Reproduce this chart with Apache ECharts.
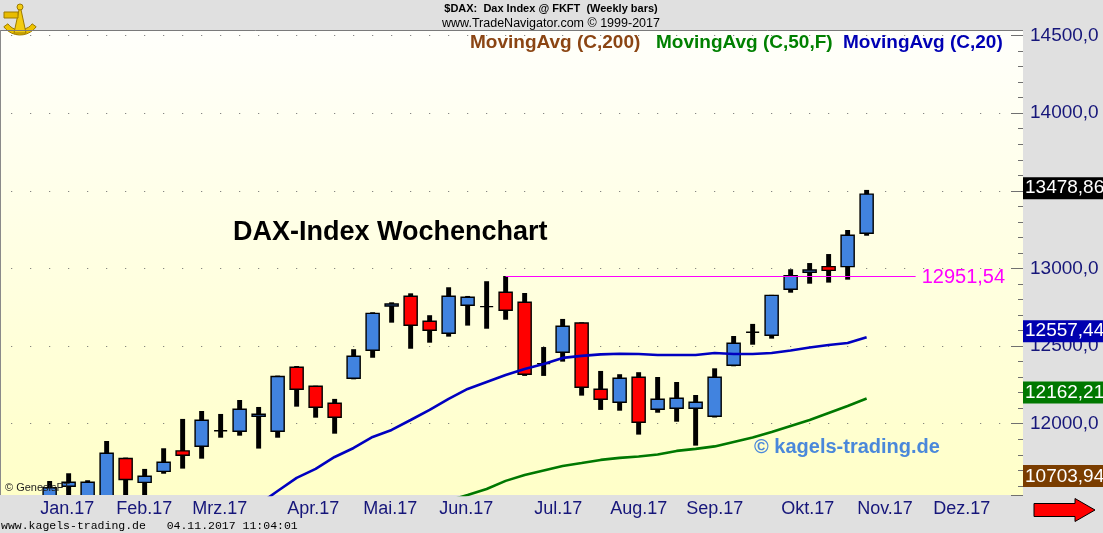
<!DOCTYPE html>
<html>
<head>
<meta charset="utf-8">
<script src="https://cdn.jsdelivr.net/npm/echarts@6/dist/echarts.min.js"></script>
<style>
html,body{margin:0;padding:0;background:#E0E0E0;}
#c{width:1103px;height:533px;}
</style>
</head>
<body>
<div id="c"></div>
<script>
// ---- data (weekly bars, dated by Friday) ----
var weeks = ['2017-01-06','2017-01-13','2017-01-20','2017-01-27','2017-02-03','2017-02-10','2017-02-17','2017-02-24',
  '2017-03-03','2017-03-10','2017-03-17','2017-03-24','2017-03-31','2017-04-07','2017-04-14','2017-04-21','2017-04-28',
  '2017-05-05','2017-05-12','2017-05-19','2017-05-26','2017-06-02','2017-06-09','2017-06-16','2017-06-23','2017-06-30',
  '2017-07-07','2017-07-14','2017-07-21','2017-07-28','2017-08-04','2017-08-11','2017-08-18','2017-08-25',
  '2017-09-01','2017-09-08','2017-09-15','2017-09-22','2017-09-29','2017-10-06','2017-10-13','2017-10-20','2017-10-27','2017-11-03'];
var opens  = [11430,11597,11535,11530,11776,11622,11693,11825,11855,11955,11952,12048,11952,12364,12241,12132,12293,
  12473,12758,12821,12660,12583,12763,12754,12847,12782,12387,12460,12649,12222,12138,12299,12093,12100,
  12100,12048,12377,12589,12570,12866,12976,13012,13012,13227];
var closes = [11588,11623,11623,11810,11641,11662,11752,11797,12022,11955,12093,12061,12304,12222,12106,12042,12435,
  12711,12771,12634,12602,12821,12815,12754,12731,12319,12387,12628,12235,12158,12293,12010,12158,12164,
  12138,12299,12518,12589,12827,12954,12990,12988,13214,13478.86];
var lows   = [11420,11520,11500,11510,11500,11530,11678,11711,11775,11910,11923,11840,11910,12110,12039,11936,12286,
  12425,12651,12483,12522,12561,12632,12612,12670,12308,12308,12400,12181,12089,12084,11930,12071,12013,
  11859,12040,12370,12509,12548,12844,12902,12909,12928,13211];
var highs  = [11631,11681,11636,11889,11782,11709,11842,12031,12082,12063,12153,12108,12310,12372,12245,12160,12480,
  12718,12782,12840,12699,12879,12823,12918,12951.54,12842,12494,12675,12653,12340,12319,12332,12301,12269,
  12185,12357,12565,12643,12830,12995,13035,13093,13248,13506];
var ma20 = [null,null,null,null,null,null,null,null,null,null,null,11480,11567,11651,11709,11786,11844,11915,11960,12024,
  12089,12160,12224,12269,12314,12353,12385,12424,12437,12447,12451,12449,12443,12443,12443,12456,12449,12449,12456,
  12472,12491,12507,12520,12557.44];
var ma50 = [null,null,null,null,null,null,null,null,null,null,null,null,null,null,null,null,null,null,null,null,null,
  11505,11541,11580,11632,11670,11699,11728,11747,11767,11780,11789,11802,11825,11838,11854,11883,11912,11947,11986,
  12024,12069,12114,12162.21];
var ma200Last = 10703.94;
var resistance = 12951.54;
var resistanceEndWeek = 45.58;
var monthNames = ['Jan','Feb','Mrz','Apr','Mai','Jun','Jul','Aug','Sep','Okt','Nov','Dez'];
var legendTexts = ['MovingAvg (C,200)','MovingAvg (C,50,F)','MovingAvg (C,20)'];

// ---- helpers ----
var FONT = '"Liberation Sans", Arial, sans-serif';
var NAVY = '#16167A';
var UP = '#4183DF', DOWN = '#FF0000';
function fmt1(v){ return v.toFixed(1).replace('.', ','); }
function fmt2(v){ return v.toFixed(2).replace('.', ','); }

var xMin = -2.56, xMax = 51.23;
var firstFri = new Date(weeks[0] + 'T12:00:00Z');
function friday(k){ return new Date(firstFri.getTime() + k * 7 * 86400000); }
var monthTicks = [], monthLabelMap = {};
for (var k = Math.ceil(xMin); k <= Math.floor(xMax); k++) {
  var d = friday(k), p = friday(k - 1);
  if (d.getUTCMonth() !== p.getUTCMonth()) {
    var v = k - 0.5;
    monthTicks.push(v);
    monthLabelMap[v.toFixed(2)] = monthNames[d.getUTCMonth()] + '.' + String(d.getUTCFullYear()).slice(2);
  }
}

var candleData = weeks.map(function(w, i){ return [i, opens[i], closes[i], lows[i], highs[i]]; });
function pairs(arr){ var out=[]; arr.forEach(function(v,i){ if (v!=null) out.push([i,v]); }); return out; }
var lastClose = closes[closes.length-1];
var resIdx = highs.indexOf(resistance);

var HIDDEN_LINE = {color:'rgba(0,0,0,0)', width:0};
function boxLabel(text, bg){
  return {show:true, position:'end', formatter:text, color:'#fff', backgroundColor:bg,
    padding:[2,2,1,2], fontSize:19, fontFamily:FONT, distance:0, offset:[0,-6]};
}

var chart = echarts.init(document.getElementById('c'), null, {renderer:'canvas'});
var option = {
  animation:false,
  backgroundColor:'#E0E0E0',
  grid:{left:1, top:30, right:80, bottom:38, show:true, borderWidth:0,
    backgroundColor:new echarts.graphic.LinearGradient(0,0,0,1,[{offset:0,color:'#FFFFFB'},{offset:1,color:'#FFFFC8'}])},
  xAxis:{type:'value', min:xMin, max:xMax,
    axisLine:{show:false, onZero:false}, axisTick:{show:false}, splitLine:{show:false},
    axisLabel:{customValues:monthTicks, formatter:function(v){ return monthLabelMap[v.toFixed(2)] || ''; },
      align:'left', color:NAVY, fontSize:18, fontFamily:FONT, margin:5}},
  yAxis:{type:'value', position:'right', min:11541, max:14536, minInterval:500, maxInterval:500, splitNumber:6,
    axisLine:{show:false, onZero:false},
    axisTick:{show:true, inside:true, length:12, lineStyle:{color:'#707070'}},
    minorTick:{show:true, splitNumber:5, length:5, lineStyle:{color:'#707070'}},
    splitLine:{show:true, showMinLine:false, showMaxLine:false,
      lineStyle:{type:[1,18], dashOffset:8.8, color:'#6a6a6a', width:1}},
    axisLabel:{showMinLabel:false, showMaxLabel:false, formatter:fmt1, color:NAVY, fontSize:19,
      fontFamily:FONT, margin:7, padding:[0,0,10,0]}},
  series:[
    {type:'custom', name:'DAX', clip:true, z:2,
      data:candleData, encode:{x:0, y:[1,2,3,4]},
      renderItem:function(params, api){
        var i = api.value(0), o = api.value(1), c = api.value(2), l = api.value(3), h = api.value(4);
        var pO = api.coord([i,o]), pC = api.coord([i,c]), pL = api.coord([i,l]), pH = api.coord([i,h]);
        var slot = api.size([1,0])[0];
        var bw = slot*0.69, ww = slot*0.26, x = pO[0];
        var top = Math.min(pO[1], pC[1]), bot = Math.max(pO[1], pC[1]);
        return {type:'group', children:[
          {type:'rect', shape:{x:x-ww/2, y:pH[1], width:ww, height:pL[1]-pH[1]}, style:{fill:'#000'}},
          {type:'rect', shape:{x:x-bw/2, y:top, width:bw, height:bot-top},
            style:{fill: c>=o ? UP : DOWN, stroke:'#000', lineWidth:1.4}}
        ]};
      }},
    {type:'line', name:legendTexts[1], data:pairs(ma50), showSymbol:false, symbol:'none', clip:true, z:3,
      lineStyle:{color:'#007800', width:2.6},
      markLine:{silent:true, symbol:['none','none'], animation:false,
        data:[{yAxis:ma50[ma50.length-1], lineStyle:HIDDEN_LINE, label:boxLabel(fmt2(ma50[ma50.length-1]), '#007800')}]}},
    {type:'line', name:legendTexts[2], data:pairs(ma20), showSymbol:false, symbol:'none', clip:true, z:3,
      lineStyle:{color:'#0000C0', width:2.6},
      markLine:{silent:true, symbol:['none','none'], animation:false,
        data:[
          {yAxis:ma20[ma20.length-1], lineStyle:HIDDEN_LINE, label:boxLabel(fmt2(ma20[ma20.length-1]), '#0000B0')},
          {yAxis:lastClose, lineStyle:HIDDEN_LINE, label:boxLabel(fmt2(lastClose), '#000000')},
          [{coord:[resIdx, resistance], lineStyle:{color:'#FF00FF', width:1, type:'solid'},
            label:{show:true, position:'end', formatter:fmt2(resistance), color:'#FF00FF', fontSize:20,
              fontFamily:FONT, distance:6, offset:[0,1]}},
           {coord:[resistanceEndWeek, resistance]}]
        ]}}
  ],
  graphic:[
    // plot border (top / left)
    {type:'line', z:50, shape:{x1:0, y1:30.5, x2:1023, y2:30.5}, style:{stroke:'#7a7a7a', lineWidth:1}},
    {type:'line', z:50, shape:{x1:0.5, y1:30, x2:0.5, y2:495}, style:{stroke:'#8a8a8a', lineWidth:1}},
    // header
    {type:'text', z:50, x:551, y:9, style:{text:'$DAX:  Dax Index @ FKFT  (Weekly bars)', font:'bold 11px '+FONT,
      fill:'#000', align:'center', verticalAlign:'middle'}},
    {type:'text', z:50, x:551, y:24, style:{text:'www.TradeNavigator.com \u00A9 1999-2017', font:'12.5px '+FONT,
      fill:'#000', align:'center', verticalAlign:'middle'}},
    // legend
    {type:'text', z:50, x:470, y:43, style:{text:legendTexts[0], font:'bold 19px '+FONT, fill:'#8B4513', verticalAlign:'middle'}},
    {type:'text', z:50, x:656, y:43, style:{text:legendTexts[1], font:'bold 19px '+FONT, fill:'#008000', verticalAlign:'middle'}},
    {type:'text', z:50, x:843, y:43, style:{text:legendTexts[2], font:'bold 19px '+FONT, fill:'#0000B4', verticalAlign:'middle'}},
    // annotations
    {type:'text', z:50, x:233, y:233, style:{text:'DAX-Index Wochenchart', font:'bold 27px '+FONT, fill:'#000', verticalAlign:'middle'}},
    {type:'text', z:50, x:754, y:447, style:{text:'\u00A9 kagels-trading.de', font:'bold 20px '+FONT, fill:'#4A88DA', verticalAlign:'middle'}},
    {type:'text', z:100, x:5, y:488, style:{text:'\u00A9 GenesisFT', font:'11px '+FONT, fill:'#222', verticalAlign:'middle'}},
    // MA200 value box (off scale, clamped at bottom)
    {type:'text', z:60, x:1023, y:465, style:{text:fmt2(ma200Last), font:'19px '+FONT, fill:'#fff',
      backgroundColor:'#7A3D00', padding:[2,2,1,2]}},
    // footer
    {type:'text', z:50, x:1, y:526, style:{text:'www.kagels-trading.de   04.11.2017 11:04:01',
      font:'11.5px "Liberation Mono", "Courier New", monospace', fill:'#000', verticalAlign:'middle'}},
    // red arrow
    {type:'polygon', z:50, shape:{points:[[1034,503.5],[1075,503.5],[1075,498.5],[1095,510],[1075,521.5],[1075,516.5],[1034,516.5]]},
      style:{fill:'#FF0000', stroke:'#000', lineWidth:1}},
    // sextant logo
    {type:'group', z:50, x:3, y:3, children:[
      {type:'sector', shape:{cx:17, cy:12, r:20, r0:15, startAngle:Math.PI*0.2, endAngle:Math.PI*0.8},
        style:{fill:'#EFC400', stroke:'#9C7A00', lineWidth:1}},
      {type:'polygon', shape:{points:[[17,2],[11,30],[23,30]]}, style:{fill:'#F3CC10', stroke:'#9C7A00', lineWidth:1}},
      {type:'rect', shape:{x:1, y:9, width:14, height:6}, style:{fill:'#E8BC00', stroke:'#9C7A00', lineWidth:1}},
      {type:'circle', shape:{cx:17, cy:4, r:3}, style:{fill:'#F3CC10', stroke:'#9C7A00', lineWidth:1}}
    ]}
  ]
};
chart.setOption(option);
</script>
</body>
</html>
